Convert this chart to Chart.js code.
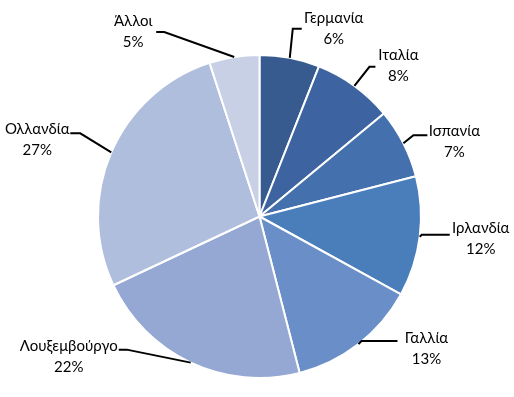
<!DOCTYPE html>
<html>
<head>
<meta charset="utf-8">
<script src="https://cdn.jsdelivr.net/npm/chart.js@4"></script>
<style>
  html, body { margin: 0; padding: 0; background: #fff; }
  .wrap { width: 514px; height: 397px; position: relative; }
</style>
</head>
<body>
<div class="wrap"><canvas id="pie_chart"></canvas></div>
<script>
let countries = ['Γερμανία', 'Ιταλία', 'Ισπανία', 'Ιρλανδία', 'Γαλλία', 'Λουξεμβούργο', 'Ολλανδία', 'Άλλοι']
let shares = [6, 8, 7, 12, 13, 22, 27, 5]
let sliceColors = ['#385b8f', '#3d64a0', '#4470ad', '#4a7ebb', '#6a8fc8', '#94a8d3', '#afbedc', '#c8d0e6']

// leader line layout per label: elbow offset from arc edge, horizontal tick, text centre offset from tick end
let leaderLayout = [
  { dx: 3, dy: -29, h: 9, tx: 32, ty: 0 },
  { dx: 15, dy: -19, h: 6, tx: 23, ty: -1 },
  { dx: 10, dy: -8, h: 14, tx: 27, ty: 6 },
  { dx: 2, dy: -2, h: 28, tx: 31, ty: 4 },
  { dx: 3, dy: -3, h: 36, tx: 29, ty: 8 },
  { dx: -64, dy: -13, h: -8, tx: -50, ty: 7 },
  { dx: -31, dy: -19, h: -10, tx: -33, ty: 6 },
  { dx: -70, dy: -25, h: -8, tx: -23, ty: 0 }
]

const outsideLabels = {
  id: 'outsideLabels',
  afterDraw(chart) {
    let ctx = chart.ctx
    let arcs = chart.getDatasetMeta(0).data
    ctx.save()
    ctx.font = '15px Lato'
    ctx.fillStyle = '#000'
    ctx.strokeStyle = '#000'
    ctx.lineWidth = 2
    ctx.textAlign = 'center'
    ctx.textBaseline = 'middle'
    arcs.forEach((arc, i) => {
      let p = arc.getProps(['x', 'y', 'startAngle', 'endAngle', 'outerRadius'], true)
      let mid = (p.startAngle + p.endAngle) / 2
      let ex = p.x + Math.cos(mid) * p.outerRadius
      let ey = p.y + Math.sin(mid) * p.outerRadius
      let lay = leaderLayout[i]
      let bx = ex + lay.dx
      let by = ey + lay.dy
      let endX = bx + lay.h
      ctx.beginPath()
      ctx.moveTo(ex, ey)
      ctx.lineTo(bx, by)
      ctx.lineTo(endX, by)
      ctx.stroke()
      let cx = endX + lay.tx
      let cy = by + lay.ty
      ctx.fillText(countries[i], cx, cy - 10.5)
      ctx.fillText(shares[i] + '%', cx, cy + 10.5)
    })
    ctx.restore()
  }
}

const ctxPie = document.getElementById('pie_chart')

new Chart(ctxPie, {
  type: 'pie',
  data: {
    labels: countries,
    datasets: [{
      data: shares,
      backgroundColor: sliceColors,
      borderColor: '#ffffff',
      borderWidth: 2
    }]
  },
  options: {
    responsive: true,
    maintainAspectRatio: false,
    animation: false,
    layout: {
      padding: { top: 54, bottom: 18, left: 97, right: 92 }
    },
    plugins: {
      legend: { display: false },
      tooltip: { enabled: false }
    }
  },
  plugins: [outsideLabels]
})
</script>
</body>
</html>
